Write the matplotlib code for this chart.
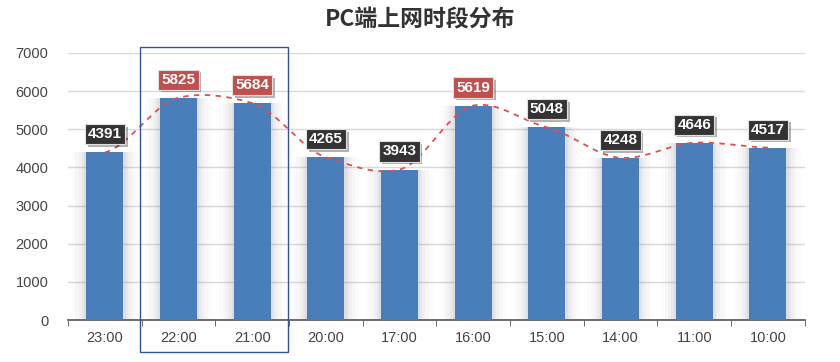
import matplotlib
matplotlib.use("Agg")
import matplotlib.pyplot as plt
import numpy as np
from matplotlib.patches import Rectangle
import matplotlib.transforms as mtransforms
import matplotlib.patheffects as pe

plt.rcParams['font.family'] = ['Liberation Sans', 'Noto Sans CJK SC', 'DejaVu Sans']

categories = ["23:00", "22:00", "21:00", "20:00", "17:00", "16:00", "15:00", "14:00", "11:00", "10:00"]
values = [4391, 5825, 5684, 4265, 3943, 5619, 5048, 4248, 4646, 4517]
highlight = [False, True, True, False, False, True, False, False, False, False]
title = "PC端上网时段分布"

fig = plt.figure(figsize=(8.4, 3.62), dpi=100)
ax = fig.add_axes([0.081, 0.116, 0.877, 0.738])

x = np.arange(len(categories))
bar_color = "#4a7ebb"

# soft shadow behind bars
for w, a in [(0.9, 0.025), (0.8, 0.035), (0.7, 0.05), (0.62, 0.07), (0.56, 0.09)]:
    ax.bar(x, values, width=w, color="#808080", alpha=a, zorder=1, linewidth=0)
ax.bar(x, values, width=0.5, color=bar_color, zorder=3, linewidth=0)

# smooth dashed line through bar tops (Hermite with damped tangents)
xf = x.astype(float)
yf = np.array(values, dtype=float)
n = len(xf)
m = np.zeros(n)
for i in range(n):
    i0, i1 = max(i - 1, 0), min(i + 1, n - 1)
    m[i] = 0.35 * (yf[i1] - yf[i0])
xs, ys = [], []
for i in range(n - 1):
    t = np.linspace(0, 1, 30)
    h00 = 2 * t**3 - 3 * t**2 + 1
    h10 = t**3 - 2 * t**2 + t
    h01 = -2 * t**3 + 3 * t**2
    h11 = t**3 - t**2
    xs.extend(xf[i] + t)
    ys.extend(h00 * yf[i] + h10 * m[i] + h01 * yf[i + 1] + h11 * m[i + 1])
ax.plot(xs, ys, color="#e05050", linestyle=(0, (3, 3)), linewidth=1.3, zorder=4)

# value labels
for xi, v, h in zip(x, values, highlight):
    fc = "#c0504d" if h else "#333333"
    t = ax.annotate(str(v), (xi, v), xytext=(0, 13), textcoords="offset points",
                    ha="center", va="center", color="white", fontsize=11, fontweight="bold",
                    zorder=6,
                    bbox=dict(boxstyle="square,pad=0.2", fc=fc, ec="#e0e0e0", lw=0.8))
    t.get_bbox_patch().set_path_effects([
        pe.SimplePatchShadow(offset=(2, -2), shadow_rgbFace="black", alpha=0.3),
        pe.Normal()])

ax.set_xlim(-0.5, len(categories) - 0.5)
ax.set_ylim(0, 7000)
ax.set_yticks(np.arange(0, 7001, 1000))
ax.yaxis.grid(True, color="#d9d9d9", linewidth=1)
ax.set_axisbelow(True)
for s in ["top", "right", "left"]:
    ax.spines[s].set_visible(False)
ax.spines["bottom"].set_color("#555555")
ax.spines["bottom"].set_linewidth(1.2)
ax.tick_params(axis="y", length=0, labelsize=10.5, colors="#444444", pad=14)
ax.set_xticks(x)
ax.set_xticklabels(categories, fontsize=10.5, color="#444444")
ax.tick_params(axis="x", length=0, pad=8)
ax.set_xticks(np.arange(-0.5, len(categories), 1), minor=True)
ax.tick_params(axis="x", which="minor", length=4, color="#555555", direction="out")

# highlight rectangle
trans = mtransforms.blended_transform_factory(ax.transData, ax.transAxes)
rect = Rectangle((0.48, -0.12), 2.0, 1.142, transform=trans, fill=False,
                 edgecolor="#2f5597", linewidth=1.0, clip_on=False, zorder=5)
ax.add_patch(rect)

fig.text(0.5, 0.945, title, ha="center", va="center", fontsize=16.5, fontweight="bold",
         color="#333333", family=["Noto Sans CJK SC", "DejaVu Sans"])

fig.savefig("out.png", dpi=100, facecolor="white")
